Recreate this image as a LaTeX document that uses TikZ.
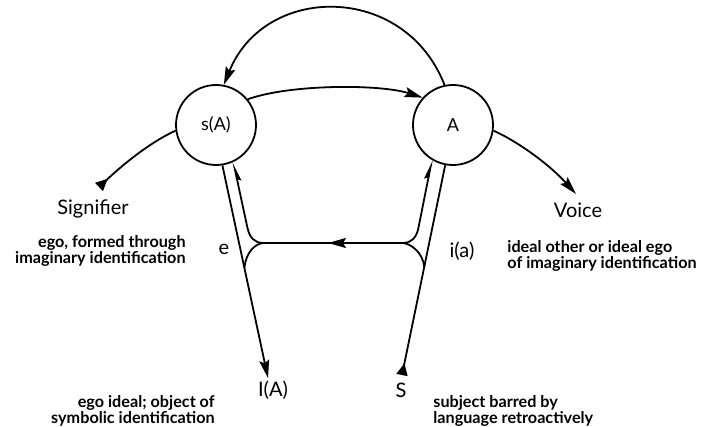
\documentclass[tikz,border=0pt]{standalone}
\usepackage{fontspec}
\setmainfont{Lato}
\usepackage{tikz}
\usetikzlibrary{arrows.meta}
\tikzset{
  ln/.style={line width=0.9pt,black},
  ar/.style={ln,-{Stealth[length=9pt,width=5pt,inset=1.5pt]}},
  harpl/.style={ln,-{Stealth[length=8pt,width=4pt,inset=1pt,harpoon,swap]}},
  harpr/.style={ln,-{Stealth[length=8pt,width=4pt,inset=1pt,harpoon]}},
  tl/.style={ln,-{Triangle[reversed,length=6pt,width=5.5pt]}},
  circ/.style={circle,draw,line width=0.9pt,minimum size=40pt,inner sep=0pt,font=\fontsize{9}{10}\selectfont},
  lbl/.style={font=\fontsize{10}{12}\selectfont,inner sep=1pt},
  desc/.style={font=\fontsize{8.1}{8}\selectfont\bfseries,inner sep=0pt}
}
\begin{document}
\begin{tikzpicture}[x=0.5pt,y=-0.5pt]
\useasboundingbox (0,0) rectangle (702,427);
\node[circ] (sA) at (216,125) {s(A)};
\node[circ] (A) at (453,125) {A};
\node[lbl] (sig) at (93,209) {Signifier};
\node[lbl] (voice) at (578,210) {Voice};
\node[lbl] (e) at (224,249) {e};
\node[lbl] (ia) at (462,251) {i(a)};
\node[lbl] (IA) at (273,390) {I(A)};
\node[lbl] (S) at (401,390) {S};
\node[desc,align=right,anchor=east] (egof) at (186,251) {ego, formed through\\imaginary identification};
\node[desc,align=left,anchor=west] (ideal) at (507,256) {ideal other or ideal ego\\of imaginary identification};
\node[desc,align=right,anchor=east] (egoi) at (215,411) {ego ideal; object of\\symbolic identification};
\node[desc,align=left,anchor=west] (subj) at (433,411) {subject barred by\\language retroactively};
\coordinate (sigend) at (99,187);
\coordinate (voiceend) at (576,194);
\coordinate (IAend) at (268,378);
\coordinate (Send) at (402,375);
\coordinate (lc) at (263,243);
\coordinate (rc) at (403,243);
\coordinate (mid) at (328,243);
% signifying chain
\draw[tl] (sA.188) .. controls (155,140) and (130,158) .. (sigend);
\draw[ar] (sA.39) .. controls (290,84) and (380,84) .. (A.138);
\draw[ar] (A.-8) .. controls (515,140) and (548,163) .. (voiceend);
\draw[ar] (A.102) .. controls (405,-17) and (265,-17) .. (sA.79);
% verticals
\draw[ar] (sA.-81) -- (IAend);
\draw[tl] (A.-101) -- (Send);
\draw[harpl] (lc) .. controls (255,243) and (249.7,238) .. (247.5,228) -- (sA.-65);
\draw[harpr] (rc) .. controls (411,243) and (416.4,238) .. (418.4,228) -- (A.-121);
\draw[ln] (lc) .. controls (255,244) and (246,252) .. (244.4,268);
\draw[ln] (rc) .. controls (411,244) and (422.5,252) .. (424.4,267);
\draw[ln] (rc) -- (lc);
\draw[ar] (rc) -- (mid);
\end{tikzpicture}
\end{document}
